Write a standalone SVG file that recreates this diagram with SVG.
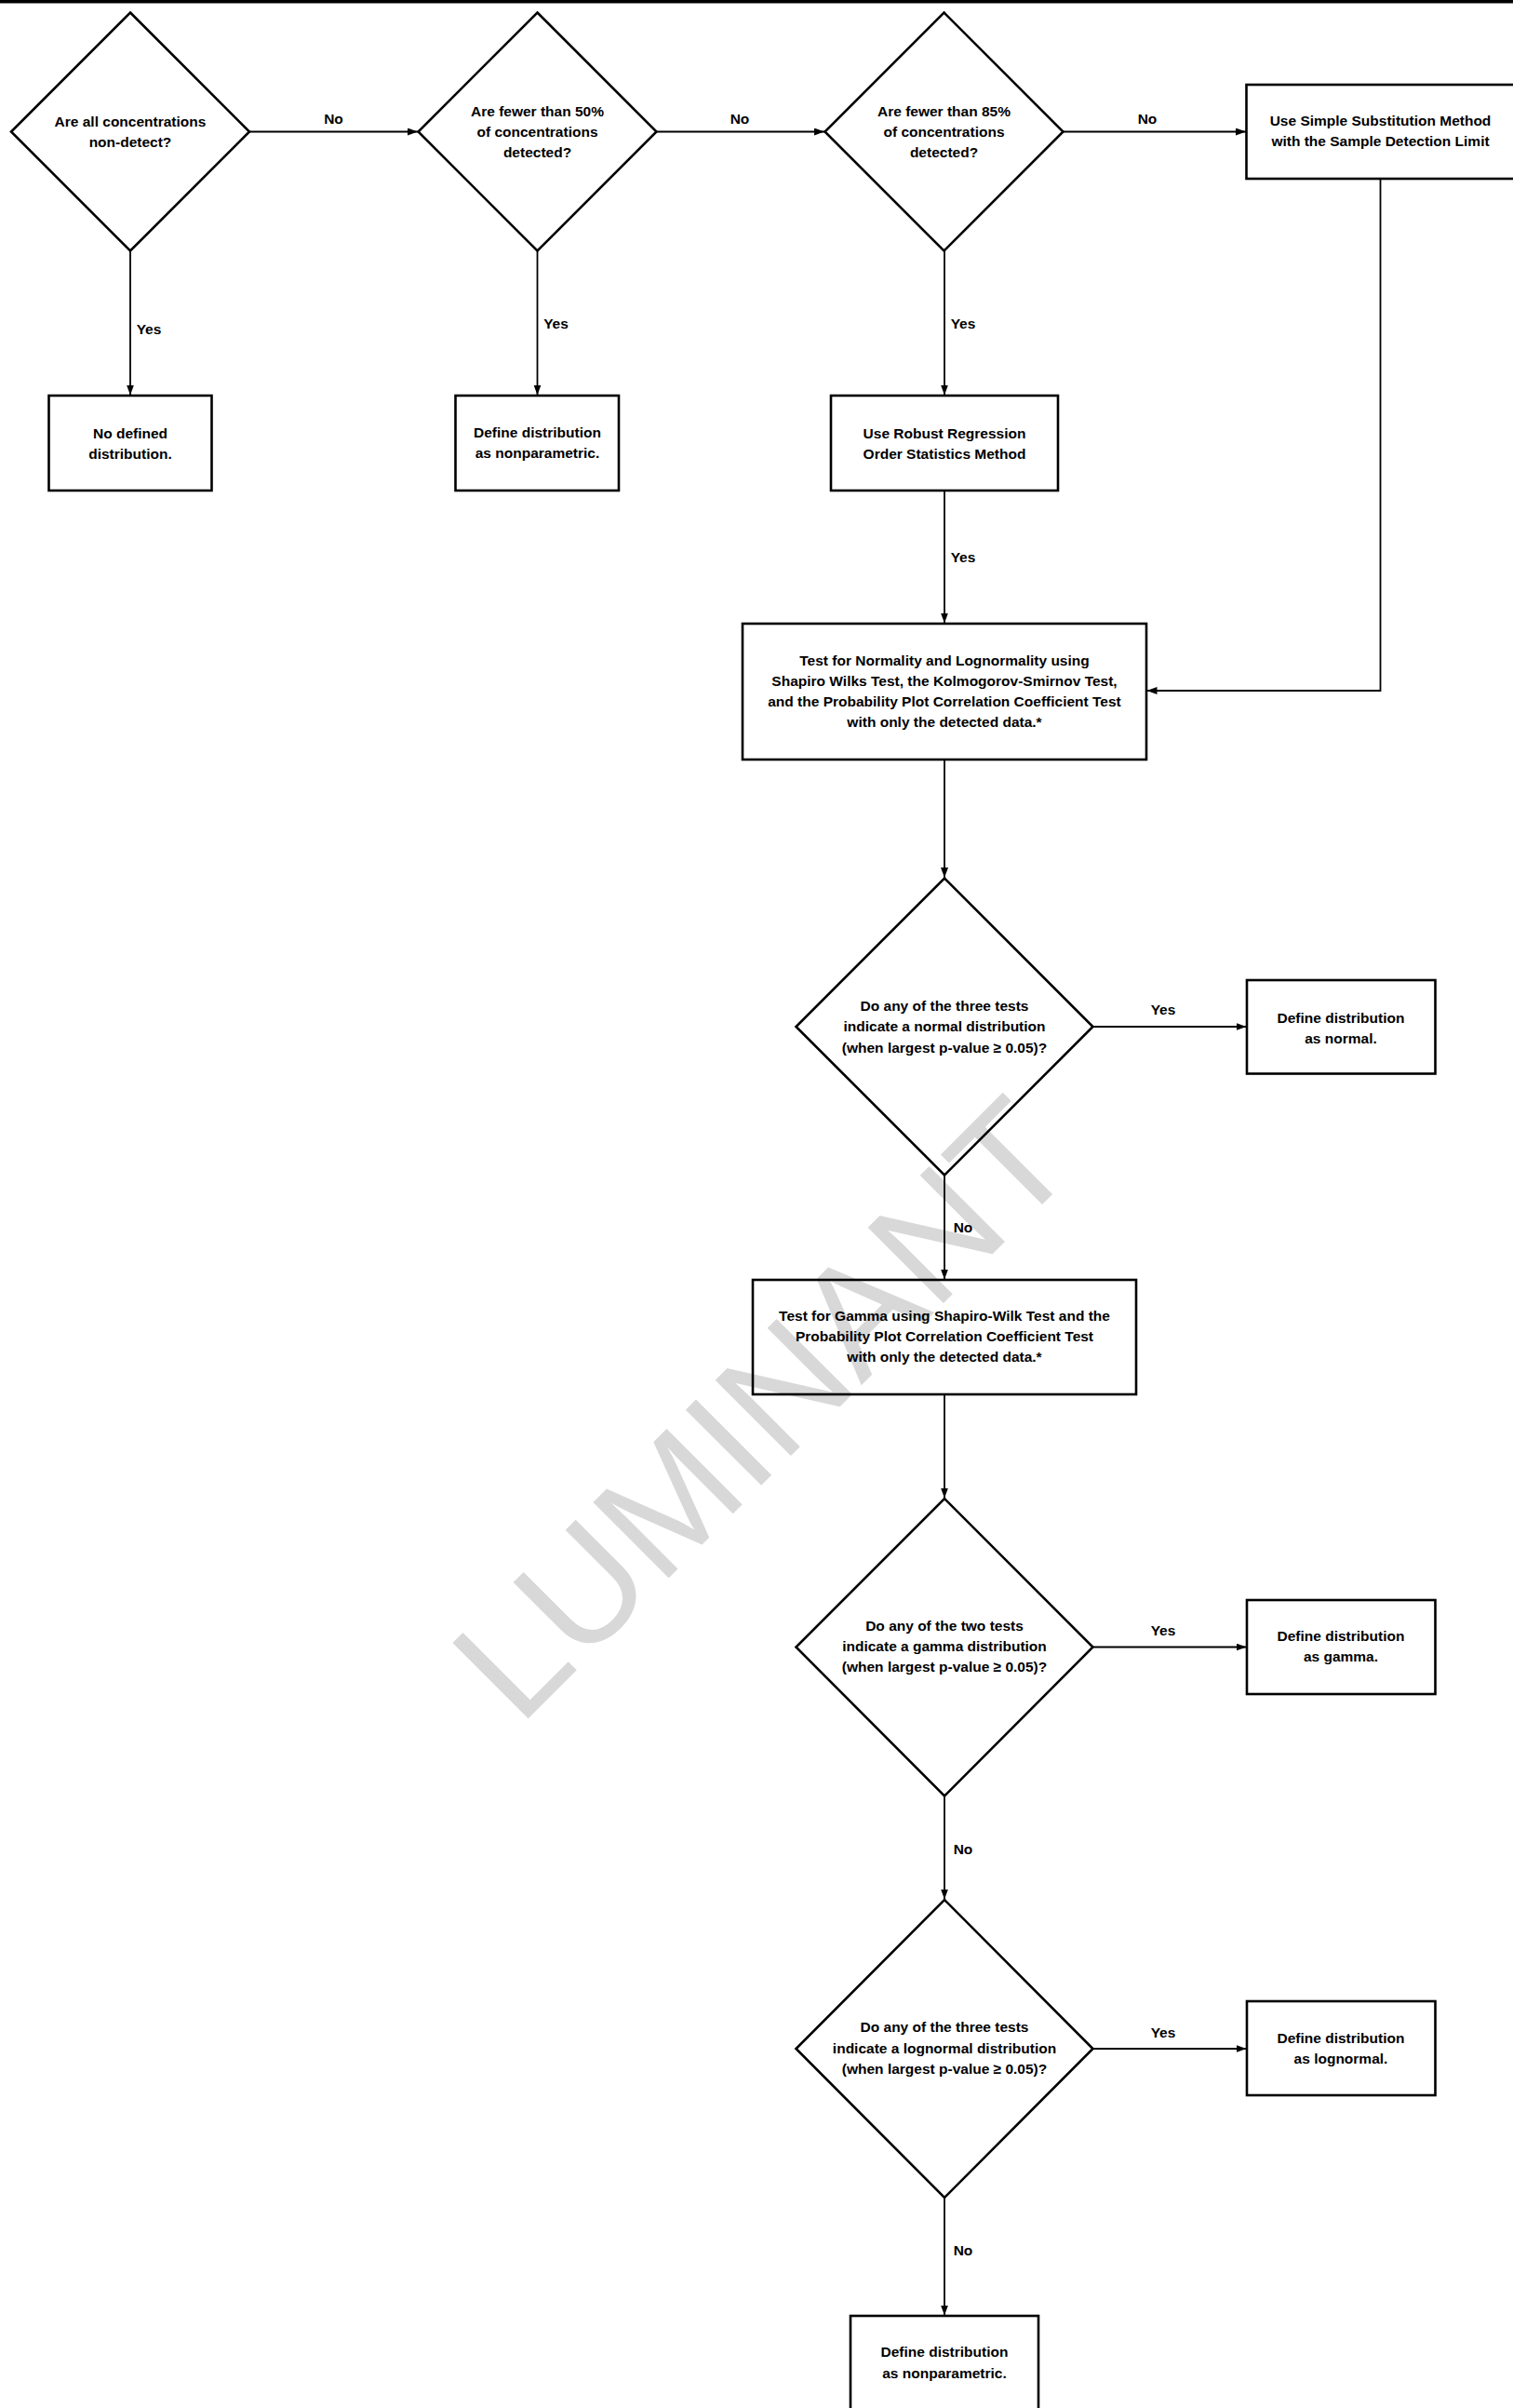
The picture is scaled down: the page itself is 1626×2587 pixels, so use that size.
<svg xmlns="http://www.w3.org/2000/svg" width="1626" height="2587" viewBox="0 0 1626 2587">
<style>
text{font-family:"Liberation Sans",Arial,sans-serif;font-weight:bold;font-size:15.5px;fill:#000;text-anchor:middle}
.shape{fill:none;stroke:#000;stroke-width:2.6;stroke-linejoin:miter}
.conn{fill:none;stroke:#000;stroke-width:1.8}
.wm{font-weight:normal;font-size:167px;fill:#d8d8d8;text-anchor:start}
</style>
<defs>
<marker id="arr" markerUnits="userSpaceOnUse" markerWidth="12" markerHeight="9" refX="11" refY="4" orient="auto">
<path d="M0,0 L11,4 L0,8 z" fill="#000"/>
</marker>
</defs>
<rect x="0" y="0" width="1626" height="3.5" fill="#000"/>
<text class="wm" transform="translate(558,1856) rotate(-45)">LUMINANT</text>

<g id="connectors">
<path class="conn" d="M268,141.5 H449" marker-end="url(#arr)"/>
<path class="conn" d="M705.5,141.5 H886" marker-end="url(#arr)"/>
<path class="conn" d="M1142.5,141.5 H1339" marker-end="url(#arr)"/>
<path class="conn" d="M140,269.5 V424.5" marker-end="url(#arr)"/>
<path class="conn" d="M577.5,269.5 V424.5" marker-end="url(#arr)"/>
<path class="conn" d="M1015,269.5 V424.5" marker-end="url(#arr)"/>
<path class="conn" d="M1015,527 V669.5" marker-end="url(#arr)"/>
<path class="conn" d="M1483.5,192 V742 H1232.5" marker-end="url(#arr)"/>
<path class="conn" d="M1015,816 V943" marker-end="url(#arr)"/>
<path class="conn" d="M1174.5,1103 H1339.5" marker-end="url(#arr)"/>
<path class="conn" d="M1015,1262.5 V1374.5" marker-end="url(#arr)"/>
<path class="conn" d="M1015,1498 V1609.5" marker-end="url(#arr)"/>
<path class="conn" d="M1174.5,1769.5 H1339.5" marker-end="url(#arr)"/>
<path class="conn" d="M1015,1929.5 V2040.5" marker-end="url(#arr)"/>
<path class="conn" d="M1174.5,2201 H1339.5" marker-end="url(#arr)"/>
<path class="conn" d="M1015,2361 V2487.5" marker-end="url(#arr)"/>
<text x="358.5" y="133">No</text>
<text x="795" y="133">No</text>
<text x="1233" y="133">No</text>
<text x="160" y="359">Yes</text>
<text x="597.5" y="353">Yes</text>
<text x="1035" y="353">Yes</text>
<text x="1035" y="604">Yes</text>
<text x="1250" y="1089.5">Yes</text>
<text x="1035" y="1324">No</text>
<text x="1250" y="1757">Yes</text>
<text x="1035" y="1991.5">No</text>
<text x="1250" y="2188.5">Yes</text>
<text x="1035" y="2423">No</text>
</g>

<g id="d1">
<polygon class="shape" points="140,13.5 268,141.5 140,269.5 12,141.5"/>
<text x="140" y="136">Are all concentrations</text>
<text x="140" y="157.5">non-detect?</text>
</g>
<g id="d2">
<polygon class="shape" points="577.5,13.5 705.5,141.5 577.5,269.5 449.5,141.5"/>
<text x="577.5" y="125">Are fewer than 50%</text>
<text x="577.5" y="147">of concentrations</text>
<text x="577.5" y="169">detected?</text>
</g>
<g id="d3">
<polygon class="shape" points="1014.5,13.5 1142.5,141.5 1014.5,269.5 886.5,141.5"/>
<text x="1014.5" y="125">Are fewer than 85%</text>
<text x="1014.5" y="147">of concentrations</text>
<text x="1014.5" y="169">detected?</text>
</g>
<g id="b1">
<rect class="shape" x="52.5" y="425" width="175" height="102"/>
<text x="140" y="471">No defined</text>
<text x="140" y="493">distribution.</text>
</g>
<g id="b2">
<rect class="shape" x="489.5" y="425" width="175.5" height="102"/>
<text x="577.5" y="469.5">Define distribution</text>
<text x="577.5" y="491.5">as nonparametric.</text>
</g>
<g id="b3">
<rect class="shape" x="893" y="425" width="244" height="102"/>
<text x="1015" y="470.5">Use Robust Regression</text>
<text x="1015" y="493">Order Statistics Method</text>
</g>
<g id="b4">
<rect class="shape" x="1339.5" y="91" width="290" height="101"/>
<text x="1483.5" y="135">Use Simple Substitution Method</text>
<text x="1483.5" y="157">with the Sample Detection Limit</text>
</g>
<g id="b5">
<rect class="shape" x="798" y="670" width="434" height="146"/>
<text x="1015" y="714.5">Test for Normality and Lognormality using</text>
<text x="1015" y="736.5">Shapiro Wilks Test, the Kolmogorov-Smirnov Test,</text>
<text x="1015" y="758.5">and the Probability Plot Correlation Coefficient Test</text>
<text x="1015" y="780.5">with only the detected data.*</text>
</g>
<g id="d4">
<polygon class="shape" points="1015,943.5 1174.5,1103 1015,1262.5 855.5,1103"/>
<text x="1015" y="1086">Do any of the three tests</text>
<text x="1015" y="1108">indicate a normal distribution</text>
<text x="1015" y="1130.5">(when largest p-value ≥ 0.05)?</text>
</g>
<g id="b6">
<rect class="shape" x="1340" y="1053" width="202.5" height="100.5"/>
<text x="1441" y="1098.5">Define distribution</text>
<text x="1441" y="1120.5">as normal.</text>
</g>
<g id="b7">
<rect class="shape" x="809" y="1375" width="412" height="123"/>
<text x="1015" y="1419">Test for Gamma using Shapiro-Wilk Test and the</text>
<text x="1015" y="1441">Probability Plot Correlation Coefficient Test</text>
<text x="1015" y="1463">with only the detected data.*</text>
</g>
<g id="d5">
<polygon class="shape" points="1015,1610 1174.5,1769.5 1015,1929.5 855.5,1769.5"/>
<text x="1015" y="1752">Do any of the two tests</text>
<text x="1015" y="1774">indicate a gamma distribution</text>
<text x="1015" y="1796">(when largest p-value ≥ 0.05)?</text>
</g>
<g id="b8">
<rect class="shape" x="1340" y="1719" width="202.5" height="101"/>
<text x="1441" y="1762.5">Define distribution</text>
<text x="1441" y="1785">as gamma.</text>
</g>
<g id="d6">
<polygon class="shape" points="1015,2041 1174.5,2201 1015,2361 855.5,2201"/>
<text x="1015" y="2183">Do any of the three tests</text>
<text x="1015" y="2205.5">indicate a lognormal distribution</text>
<text x="1015" y="2228">(when largest p-value ≥ 0.05)?</text>
</g>
<g id="b9">
<rect class="shape" x="1340" y="2150" width="202.5" height="101"/>
<text x="1441" y="2194.5">Define distribution</text>
<text x="1441" y="2217">as lognormal.</text>
</g>
<g id="b10">
<rect class="shape" x="914" y="2488" width="202" height="102"/>
<text x="1015" y="2531.5">Define distribution</text>
<text x="1015" y="2555">as nonparametric.</text>
</g>
</svg>
